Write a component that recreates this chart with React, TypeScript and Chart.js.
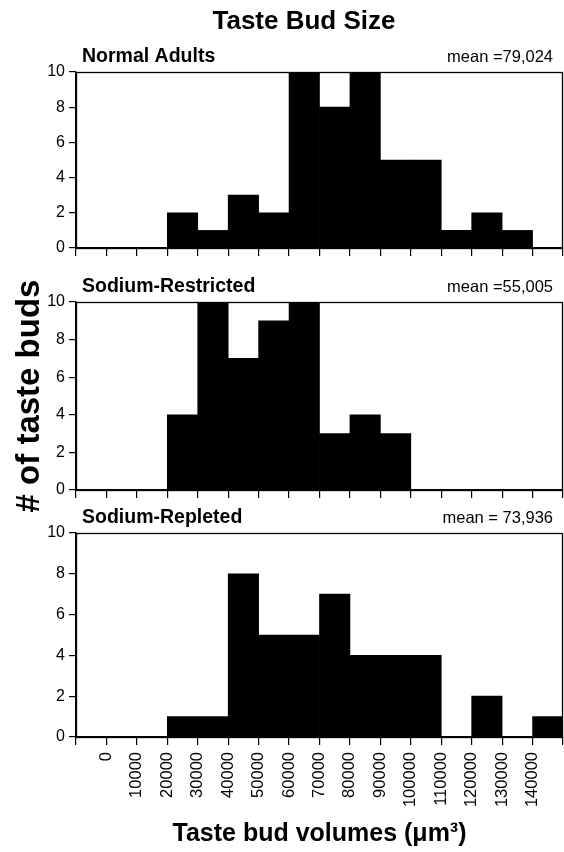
import React, { useEffect, useRef } from 'react';
import { Chart, registerables } from 'chart.js';

Chart.register(...registerables);

// ---------- data ----------
const binStarts = [-10000, 0, 10000, 20000, 30000, 40000, 50000, 60000, 70000, 80000, 90000, 100000, 110000, 120000, 130000, 140000];
const binWidth = 10000;
const tickLabels = ['0', '10000', '20000', '30000', '40000', '50000', '60000', '70000', '80000', '90000', '100000', '110000', '120000', '130000', '140000'];
const normalAdults = [0, 0, 0, 2, 1, 3, 2, 10, 8, 10, 5, 5, 1, 2, 1, 0];
const sodiumRestricted = [0, 0, 0, 4, 10, 7, 9, 10, 3, 4, 3, 0, 0, 0, 0, 0];
const sodiumRepleted = [0, 0, 0, 1, 1, 8, 5, 5, 7, 4, 4, 4, 0, 2, 0, 1];
const panelLabels = ['Normal Adults', 'Sodium-Restricted', 'Sodium-Repleted'];
const meanLabels = ['mean =79,024', 'mean =55,005', 'mean = 73,936'];
const chartTitle = 'Taste Bud Size';
const yAxisTitle = '# of taste buds';
const xAxisTitle = 'Taste bud volumes (\u03BCm\u00B3)';

// ---------- layout ----------
const W = 564;
const H = 852;
const PANEL_AREAS = [
  { left: 76, right: 563, top: 72, bottom: 248 },
  { left: 76, right: 563, top: 302, bottom: 490 },
  { left: 76, right: 563, top: 533, bottom: 737 },
];
const X_AXIS_H = 20;
const FONT = '"Liberation Sans", Arial, Helvetica, sans-serif';

const panelTextPlugin = {
  id: 'panelText',
  afterDraw(chart: any, _args: any, opts: any) {
    const { ctx, chartArea: a } = chart;
    ctx.save();
    ctx.strokeStyle = '#000';
    ctx.lineWidth = 1.3;
    ctx.strokeRect(a.left + 0.5, a.top + 0.5, a.right - a.left - 1, a.bottom - a.top);
    ctx.fillStyle = '#000';
    ctx.textBaseline = 'alphabetic';
    if (opts.title) {
      ctx.font = `bold 26px ${FONT}`;
      ctx.textAlign = 'center';
      ctx.fillText(opts.title, 304, 29);
    }
    ctx.font = `bold 19.5px ${FONT}`;
    ctx.textAlign = 'left';
    ctx.fillText(opts.label, a.left + 6, a.top - 10);
    ctx.font = `16.5px ${FONT}`;
    ctx.textAlign = 'right';
    ctx.fillText(opts.mean, a.right - 10, a.top - 10);
    ctx.restore();
  },
};

export default function App() {
  const r0 = useRef<HTMLCanvasElement>(null);
  const r1 = useRef<HTMLCanvasElement>(null);
  const r2 = useRef<HTMLCanvasElement>(null);

  useEffect(() => {
    const refs = [r0, r1, r2];
    const series = [normalAdults, sodiumRestricted, sodiumRepleted];
    const charts = series.map((vals, i) => {
      const canvas = refs[i].current as HTMLCanvasElement;
      const area = PANEL_AREAS[i];
      const isLast = i === series.length - 1;
      return new Chart(canvas, {
        type: 'bar',
        data: {
          datasets: [
            {
              data: binStarts.map((b, j) => ({ x: b + binWidth / 2, y: vals[j] })),
              backgroundColor: '#000',
              borderWidth: 0,
              barPercentage: 1,
              categoryPercentage: 1,
            },
          ],
        },
        options: {
          responsive: false,
          animation: false,
          devicePixelRatio: 1,
          layout: {
            padding: {
              top: area.top,
              left: 0,
              right: W - area.right,
              bottom: isLast ? 0 : H - area.bottom - X_AXIS_H,
            },
          },
          plugins: {
            legend: { display: false },
            tooltip: { enabled: false },
            panelText: {
              title: i === 0 ? chartTitle : '',
              label: panelLabels[i],
              mean: meanLabels[i],
            },
          } as any,
          scales: {
            x: {
              type: 'linear',
              min: -10000,
              max: 150000,
              offset: false,
              ticks: {
                stepSize: 10000,
                display: isLast,
                autoSkip: false,
                minRotation: 90,
                maxRotation: 90,
                padding: 7,
                color: '#000',
                font: { family: FONT, size: 16.5 },
                callback: (v: any) => (tickLabels.includes(String(v)) ? String(v) : ''),
              },
              grid: {
                drawOnChartArea: false,
                drawTicks: true,
                tickLength: 8,
                color: '#000',
                lineWidth: 1.2,
                offset: false,
              },
              border: { display: true, color: '#000', width: 1.2 },
              title: {
                display: isLast,
                text: xAxisTitle,
                color: '#000',
                font: { family: FONT, size: 25, weight: 'bold' },
                padding: { top: 0, bottom: 3 },
              },
              afterFit: (s: any) => {
                s.height = isLast ? H - area.bottom : X_AXIS_H;
                s.paddingLeft = 0;
                s.paddingRight = 0;
              },
            },
            y: {
              min: 0,
              max: 10,
              ticks: {
                stepSize: 2,
                padding: 4,
                color: '#000',
                font: { family: FONT, size: 16 },
              },
              grid: {
                drawOnChartArea: false,
                drawTicks: true,
                tickLength: 7,
                color: '#000',
                lineWidth: 1.2,
              },
              border: { display: true, color: '#000', width: 1.2 },
              title: {
                display: i === 1,
                text: yAxisTitle,
                color: '#000',
                font: { family: FONT, size: 33, weight: 'bold' },
                padding: { top: 10, bottom: 0 },
              },
              afterFit: (s: any) => {
                s.width = area.left;
                s.paddingTop = 0;
                s.paddingBottom = 0;
              },
            },
          } as any,
        },
        plugins: [panelTextPlugin],
      } as any);
    });
    return () => {
      charts.forEach((c) => c.destroy());
    };
  }, []);

  const canvasStyle: React.CSSProperties = { position: 'absolute', left: 0, top: 0, width: W, height: H };
  return (
    <div style={{ position: 'absolute', left: 0, top: 0, width: W, height: H, background: '#fff' }}>
      <canvas ref={r0} width={W} height={H} style={canvasStyle} />
      <canvas ref={r1} width={W} height={H} style={canvasStyle} />
      <canvas ref={r2} width={W} height={H} style={canvasStyle} />
    </div>
  );
}
